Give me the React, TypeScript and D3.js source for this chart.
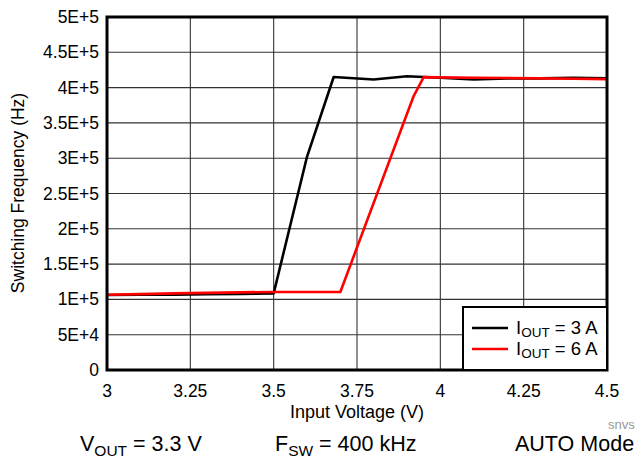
import React from "react";
import * as d3 from "d3";

const xTicks = [3, 3.25, 3.5, 3.75, 4, 4.25, 4.5];
const xTickLabels = ["3", "3.25", "3.5", "3.75", "4", "4.25", "4.5"];
const yTicks = [0, 5e4, 1e5, 1.5e5, 2e5, 2.5e5, 3e5, 3.5e5, 4e5, 4.5e5, 5e5];
const yTickLabels = ["0", "5E+4", "1E+5", "1.5E+5", "2E+5", "2.5E+5", "3E+5", "3.5E+5", "4E+5", "4.5E+5", "5E+5"];

const vin3A = [3.0, 3.1, 3.2, 3.3, 3.4, 3.5, 3.6, 3.68, 3.8, 3.9, 4.0, 4.1, 4.2, 4.3, 4.4, 4.5];
const freq3A = [1.062e5, 1.065e5, 1.068e5, 1.072e5, 1.078e5, 1.086e5, 3.02e5, 4.15e5, 4.115e5, 4.16e5, 4.14e5, 4.115e5, 4.13e5, 4.13e5, 4.14e5, 4.13e5];

const vin6A = [3.0, 3.1, 3.2, 3.3, 3.4, 3.5, 3.6, 3.7, 3.92, 3.95, 4.0, 4.1, 4.2, 4.3, 4.4, 4.5];
const freq6A = [1.065e5, 1.075e5, 1.085e5, 1.093e5, 1.1e5, 1.105e5, 1.105e5, 1.105e5, 3.88e5, 4.148e5, 4.145e5, 4.14e5, 4.135e5, 4.13e5, 4.125e5, 4.12e5];

const W = 635;
const H = 459;
const L = 107, R = 607, T = 17, B = 370;
const FONT = "'Liberation Sans', Arial, Helvetica, sans-serif";

export default function App() {
  const x = d3.scaleLinear().domain([3, 4.5]).range([L, R]);
  const y = d3.scaleLinear().domain([0, 5e5]).range([B, T]);
  const line = d3.line<[number, number]>().x((d) => x(d[0])).y((d) => y(d[1]));
  const d3A = line(vin3A.map((v, i) => [v, freq3A[i]] as [number, number])) || "";
  const d6A = line(vin6A.map((v, i) => [v, freq6A[i]] as [number, number])) || "";

  return (
    <svg width={W} height={H} style={{ position: "absolute", left: 0, top: 0, background: "#fff" }} fontFamily={FONT}>
      <rect x={0} y={0} width={W} height={H} fill="#fff" />
      {/* grid */}
      {xTicks.map((t, i) => (
        <line key={"gx" + i} x1={x(t)} x2={x(t)} y1={T} y2={B} stroke="#333" strokeWidth={1.1} />
      ))}
      {yTicks.map((t, i) => (
        <line key={"gy" + i} x1={L} x2={R} y1={y(t)} y2={y(t)} stroke="#333" strokeWidth={1.1} />
      ))}
      {/* series */}
      <path d={d3A} fill="none" stroke="#000" strokeWidth={2.6} strokeLinejoin="round" />
      <path d={d6A} fill="none" stroke="#ff0000" strokeWidth={2.6} strokeLinejoin="round" />
      {/* frame */}
      <rect x={L} y={T} width={R - L} height={B - T} fill="none" stroke="#000" strokeWidth={3} />
      {/* tick labels */}
      {xTicks.map((t, i) => (
        <text key={"xl" + i} x={x(t)} y={397} textAnchor="middle" fontSize={17.5} fill="#000">
          {xTickLabels[i]}
        </text>
      ))}
      {yTicks.map((t, i) => (
        <text key={"yl" + i} x={99} y={y(t) + 6} textAnchor="end" fontSize={17.5} fill="#000">
          {yTickLabels[i]}
        </text>
      ))}
      {/* axis titles */}
      <text x={357} y={418} textAnchor="middle" fontSize={18} fill="#000">Input Voltage (V)</text>
      <text transform={`translate(24,193) rotate(-90)`} textAnchor="middle" fontSize={17.5} fill="#000">
        Switching Frequency (Hz)
      </text>
      {/* legend */}
      <rect x={463} y={307} width={144} height={63} fill="#fff" stroke="#000" strokeWidth={2} />
      <line x1={472} x2={508} y1={328} y2={328} stroke="#000" strokeWidth={2.6} />
      <line x1={472} x2={508} y1={349} y2={349} stroke="#ff0000" strokeWidth={2.6} />
      <text x={516} y={334} fontSize={18.5} fill="#000">
        I<tspan fontSize={13.5} dy={3}>OUT</tspan><tspan dy={-3}> = 3 A</tspan>
      </text>
      <text x={516} y={355} fontSize={18.5} fill="#000">
        I<tspan fontSize={13.5} dy={3}>OUT</tspan><tspan dy={-3}> = 6 A</tspan>
      </text>
      {/* footer */}
      <text x={608} y={429} fontSize={13} fill="#999">snvs</text>
      <text x={80} y={451} fontSize={21.5} fill="#000">
        V<tspan fontSize={15.5} dy={5}>OUT</tspan><tspan dy={-5}> = 3.3 V</tspan>
      </text>
      <text x={275} y={451} fontSize={21.5} fill="#000">
        F<tspan fontSize={15.5} dy={5}>SW</tspan><tspan dy={-5}> = 400 kHz</tspan>
      </text>
      <text x={515} y={451} fontSize={21.5} fill="#000">AUTO Mode</text>
    </svg>
  );
}
